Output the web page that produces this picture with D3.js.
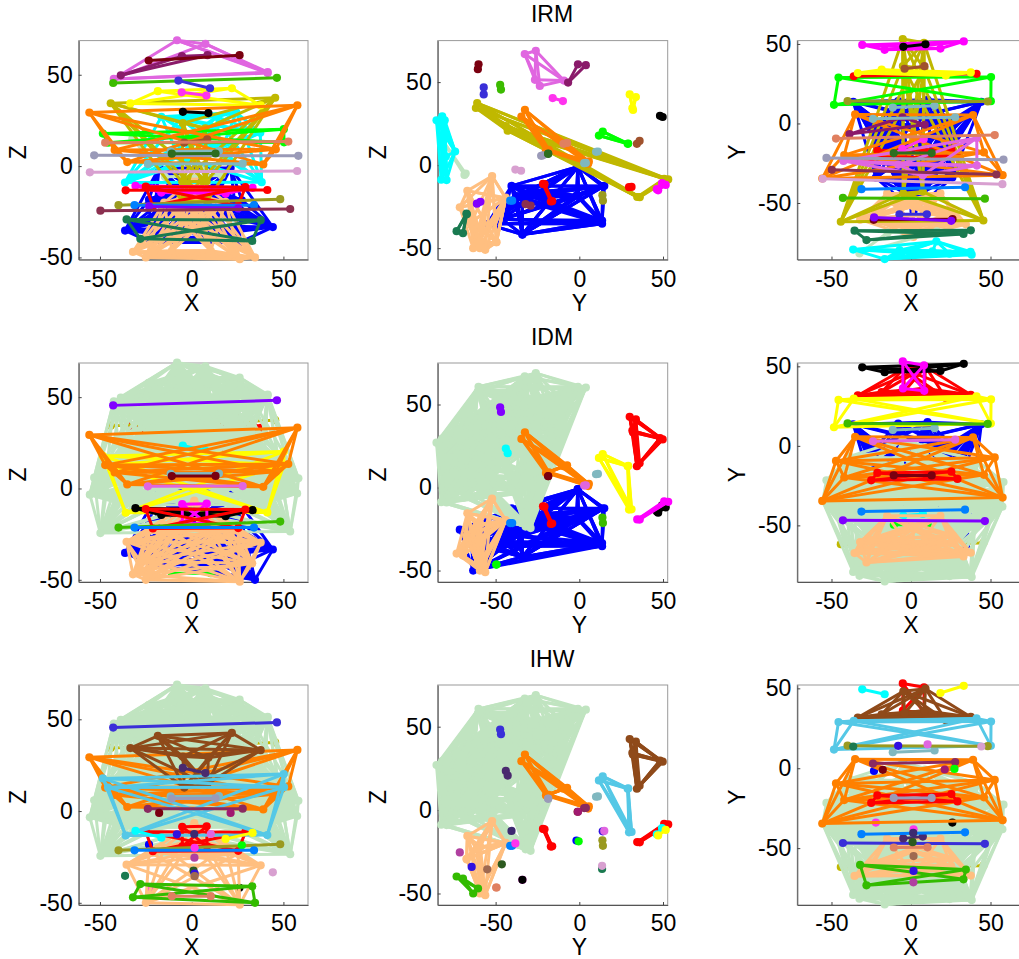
<!DOCTYPE html>
<html><head><meta charset="utf-8">
<script src="https://cdn.jsdelivr.net/npm/d3@7/dist/d3.min.js"></script>
<style>html,body{margin:0;padding:0;background:#fff;overflow:hidden}svg{display:block}text{font-family:"Liberation Sans",Arial,sans-serif;fill:#000}</style>
</head><body><svg id="c" width="1019" height="959"></svg>
<script>
// Regions (mirror pairs) and their read coordinates, in order L, R
const nodeNames=["PreCG.L","PreCG.R","SFGdor.L","SFGdor.R","ORBsup.L","ORBsup.R","MFG.L","MFG.R","ORBmid.L","ORBmid.R","IFGoperc.L","IFGoperc.R","IFGtriang.L","IFGtriang.R","ORBinf.L","ORBinf.R","ROL.L","ROL.R","SMA.L","SMA.R","OLF.L","OLF.R","SFGmed.L","SFGmed.R","ORBsupmed.L","ORBsupmed.R","REC.L","REC.R","INS.L","INS.R","ACG.L","ACG.R","DCG.L","DCG.R","PCG.L","PCG.R","HIP.L","HIP.R","PHG.L","PHG.R","AMYG.L","AMYG.R","CAL.L","CAL.R","CUN.L","CUN.R","LING.L","LING.R","SOG.L","SOG.R","MOG.L","MOG.R","IOG.L","IOG.R","FFG.L","FFG.R","PoCG.L","PoCG.R","SPG.L","SPG.R","IPL.L","IPL.R","SMG.L","SMG.R","ANG.L","ANG.R","PCUN.L","PCUN.R","PCL.L","PCL.R","CAU.L","CAU.R","PUT.L","PUT.R","PAL.L","PAL.R","THA.L","THA.R","HES.L","HES.R","STG.L","STG.R","TPOsup.L","TPOsup.R","MTG.L","MTG.R","TPOmid.L","TPOmid.R","ITG.L","ITG.R","Crus1.L","Crus1.R","Crus2.L","Crus2.R","Cb3.L","Cb3.R","Cb45.L","Cb45.R","Cb6.L","Cb6.R","Cb7b.L","Cb7b.R","Cb8.L","Cb8.R","Cb9.L","Cb9.R","Cb10.L","Cb10.R","V12","V3","V45","V6","V7","V8","V9","V10"];
const nodeX=[-38.65,41.37,-18.45,21.9,-16.56,18.49,-33.43,37.59,-30.65,33.18,-48.43,50.2,-45.58,50.33,-35.98,41.22,-47.16,52.65,-5.32,8.62,-8.06,10.43,-4.8,9.1,-5.17,8.16,-5.08,8.35,-35.13,39.02,-4.04,8.46,-5.48,8.02,-4.85,7.44,-25.03,29.23,-21.17,25.38,-23.27,27.32,-7.14,15.99,-5.93,13.51,-14.62,16.29,-16.54,24.29,-32.39,37.39,-36.36,38.16,-31.16,33.97,-42.46,41.43,-23.45,26.11,-42.8,46.46,-55.79,57.61,-44.14,45.51,-7.24,9.98,-7.99,7.48,-11.46,14.84,-23.91,27.78,-17.75,21.2,-10.85,13,-41.99,45.86,-53.16,58.15,-39.88,48.25,-55.52,57.47,-36.32,44.22,-49.77,53.69,-35.5,37.6,-28,33,-8.3,13.5,-15,18.5,-23.2,25.3,-32,34.5,-25,26.2,-10.8,10.4,-22.1,26,1.6,1.4,1.4,1.5,1.5,1.6,1.6,1];
const nodeY=[-6.7,-9.2,33.8,30.1,46.3,47.1,31.7,32.1,49.4,51.6,11.7,14,28.9,29.2,29.7,31.2,-9.5,-7.3,3.9,-0.8,14,14.9,48.2,49.8,53.1,50.7,36.1,34.6,5.7,5.3,34.4,36,-15.9,-9.8,-43.9,-42.8,-21.7,-20.8,-17,-16.2,-1.7,-0.4,-79.7,-74.2,-81.1,-80.4,-68.6,-67.9,-85.3,-81.9,-81.7,-80.7,-79.3,-82.5,-41.3,-40.1,-23.6,-26.5,-60.6,-60.2,-46.8,-47.3,-34.6,-32.5,-61.8,-61,-57.1,-57.1,-26,-32.6,10,11.1,2.9,3.9,-1,-0.8,-18.6,-18.6,-19.9,-18.2,-21.7,-22.8,14.1,13.8,-34.8,-38.2,13.6,13.6,-29.1,-32.1,-67.4,-67.2,-73.3,-69.5,-37.3,-34,-44,-44,-59.1,-61.2,-60.5,-63.4,-59.4,-56.2,-49.6,-49.5,-34,-34,-38.2,-40.5,-52.1,-66.9,-71.4,-64.3,-55,-46.3];
const nodeZ=[49.7,50.9,41,42.6,-14.5,-15.2,34.3,33.2,-10.8,-11.9,17.8,20.2,12.8,13,-13.3,-13.1,12.8,13.4,60.2,60.7,-12.7,-12.5,29.7,29,-8.6,-8.3,-19.3,-19.2,2.2,0.9,12.8,14.6,40.4,38.6,23.5,20.7,-11.3,-11.5,-21.9,-21.7,-18.3,-18.7,5.2,8.2,26,27,-5.9,-5.1,27,29.4,14.9,18.2,-9,-8.8,-21.4,-21.4,47.7,51.4,57.8,60.7,45.5,48.3,29.3,33.3,34.4,37.4,46.8,42.6,68.9,66.9,8,8.2,1.2,1.3,-1,-1,6.8,6.9,8.8,9.2,5.9,5.6,-21.4,-18.1,-3.4,-2.7,-35.3,-33.4,-24.4,-23.5,-29.2,-29.6,-39.8,-41,-18.6,-17,-20,-19.6,-22.1,-23.2,-47,-50,-50,-51,-46.4,-46.4,-41.8,-41.8,-20,-12.5,-6.6,-15.5,-25.4,-34.1,-35.5,-32.5];

// Modules of each method: [colour, regions]; a name without side means both sides
const irmColors=["#0000ff","#ffbf80","#c0e4c0","#00ffff","#c0b800","#00ff00","#ff00ff","#ff0000","#ff0000","#ffff00","#ff8000","#e066e0","#8a1a6a","#1a7a50","#7a0010","#3cbb00","#3a2fd8","#ff33ee","#000000","#a0522d","#80b8c0","#80b8c0","#e08060","#9a9ab8","#2d6e20","#d8a0d0","#9a9a20","#0080ff","#8000ff","#8b3050"];
const irmModules=[
["OLF","PAL","AMYG","TPOmid","Cb3","Cb10","V12","V3","V9","V10"],
["Cb45","Cb7b","Cb8","Cb9","V45","V6","V7","V8"],
["MOG.L","LING"],
["CAL","CUN","SOG","MOG.R","IOG"],
["ANG","PCG","ORBsupmed","REC"],
["IFGoperc","IFGtriang"],
["ORBsup","ORBmid"],
["HIP","PHG"],
["ORBinf"],
["SFGdor","MFG"],
["INS","HES","SMG"],
["PreCG.R","PoCG","PCL"],
["PreCG.L","SMA"],
["Crus1","Crus2"],
["SPG"],["IPL"],["PCUN"],["DCG"],["SFGmed"],["ACG"],["CAU"],["PUT"],["ROL"],["STG"],["THA"],["MTG"],["TPOsup"],["FFG"],["Cb6"],["ITG"]];

const idmColors=["#0000ff","#ff0000","#c0b800","#c0e4c0","#00ff00","#00ffff","#ffbf80","#ffff00","#ff8000","#000000","#ff00ff","#ff0000","#80b8c0","#e066e0","#7a0010","#3cbb00","#0080ff","#8000ff"];
const idmModules=[
["OLF","PAL","AMYG","TPOmid","Cb3","Cb7b.R","Cb10","V12","V3","V7","V8","V9","V10"],
["SFGdor","MFG","SFGmed","ACG"],
["ANG"],
["PreCG","SMA","CAL","CUN","LING","SOG","MOG","IOG","PoCG","SPG","PCUN","PCL","DCG","STG","MTG","ITG"],
["Cb9"],
["PCG"],
["Crus1","Crus2","Cb45","Cb6","Cb7b.L","Cb8","V45","V6"],
["IFGoperc","IFGtriang","ORBinf"],
["INS","ROL","HES","SMG"],
["ORBsup","ORBmid"],
["ORBsupmed","REC"],
["HIP","PHG"],
["CAU"],["PUT"],["THA"],["TPOsup"],["FFG"],["IPL"]];

const ihwColors=["#c0b800","#c0e4c0","#ff33ee","#000000","#0000ff","#ff8000","#ffbf80","#ff0000","#ff0000","#8f4a1a","#55c8e6","#33bb00","#00ffff","#ffff00","#80b8c0","#9a9ab8","#8a2a60","#7a0010","#a01a70","#3a2fd8","#4a2a6e","#9a9a20","#3010e0","#e066e0","#1a7a50","#d8a0d0","#00ff00","#0080ff","#e08060","#ff33ee","#3d2a70","#2d5a20","#3010e0","#a06a50","#b040a0"];
const ihwModules=[
["ANG"],
["PreCG","SMA","CAL","CUN","LING","SOG","MOG","IOG","PoCG","SPG","PCUN","PCL","DCG","STG","MTG","ITG"],
["Cb10.L"],["Cb10.R"],["AMYG.L"],
["INS","ROL","HES","SMG"],
["Crus1","Cb45","Cb6","Cb8","V45","V6"],
["HIP","PHG"],
["ORBsupmed","REC"],
["SFGdor","MFG","SFGmed","ACG"],
["IFGoperc","IFGtriang","ORBinf"],
["Crus2","Cb7b"],
["ORBsup.L","ORBmid.L"],["ORBsup.R","ORBmid.R"],
["CAU"],["THA"],["PUT"],["PAL.L"],["PAL.R"],["IPL"],["PCG"],["TPOsup"],
["OLF.L"],["OLF.R"],["TPOmid.L"],["TPOmid.R"],["AMYG.R"],["FFG"],["Cb9"],["V12"],["V3"],["V10"],["V8"],["V9"],["V7"]];

const methodTitles=["IRM","IDM","IHW"];
const tickValues=[-50,0,50];

const svg=d3.select("#c");
const idx=new Map(nodeNames.map((n,i)=>[n,i]));
const members=names=>names.flatMap(n=>idx.has(n)?[idx.get(n)]:[idx.get(n+".L"),idx.get(n+".R")]);

const coord={X:nodeX,Y:nodeY,Z:nodeZ};
const rowsPx=[[40.6,259.6],[363,582],[685,905]];
const columns=[
 {h:"X",v:"Z",xr:[78.7,308],xd:[-61.6,63.4],vd:[-51.2,68.7],lx:18},
 {h:"Y",v:"Z",xr:[437.7,667.7],xd:[-84.6,52.8],vd:[-56.9,75],lx:378},
 {h:"X",v:"Y",xr:[797.3,1024.7],xd:[-71.5,71.5],vd:[-85.6,52.1],lx:737}];
const methods=[[irmColors,irmModules],[idmColors,idmModules],[ihwColors,ihwModules]];

methods.forEach(([colors,mods],r)=>{
 const [top,bot]=rowsPx[r];
 columns.forEach((c,ci)=>{
  const x=d3.scaleLinear().domain(c.xd).range(c.xr);
  const y=d3.scaleLinear().domain(c.vd).range([bot,top]);
  const g=svg.append("g");
  g.append("rect").attr("x",c.xr[0]).attr("y",top).attr("width",c.xr[1]-c.xr[0]).attr("height",bot-top)
   .attr("fill","#fff").attr("stroke","#9a9a9a").attr("stroke-width",1);
  const gx=g.append("g").attr("transform",`translate(0,${bot})`)
   .call(d3.axisBottom(x).tickValues(tickValues).tickFormat(d3.format("d")).tickSizeInner(-3).tickSizeOuter(0).tickPadding(r===2?10:11));
  const gy=g.append("g").attr("transform",`translate(${c.xr[0]},0)`)
   .call(d3.axisLeft(y).tickValues(tickValues).tickFormat(d3.format("d")).tickSizeInner(-3).tickSizeOuter(0).tickPadding(6));
  [gx,gy].forEach(a=>{a.selectAll("text").attr("font-size",23).attr("font-family",'"Liberation Sans",Arial,sans-serif').attr("fill","#000");
    a.selectAll("line").attr("stroke","#444");a.select(".domain").attr("stroke","#555");
    a.selectAll("text").text(d=>d<0?"-"+Math.abs(d):d);});
  const H=coord[c.h],V=coord[c.v];
  mods.forEach((m,mi)=>{
   const col=colors[mi],ids=members(m);
   const pairs=ids.flatMap((a,i)=>ids.slice(i+1).map(b=>[a,b]));
   const mg=g.append("g");
   mg.selectAll("line").data(pairs).join("line")
    .attr("x1",d=>x(H[d[0]])).attr("y1",d=>y(V[d[0]])).attr("x2",d=>x(H[d[1]])).attr("y2",d=>y(V[d[1]]))
    .attr("stroke",col).attr("stroke-width",3).attr("stroke-linecap","round");
   mg.selectAll("circle").data(ids).join("circle")
    .attr("cx",d=>x(H[d])).attr("cy",d=>y(V[d])).attr("r",4.1).attr("fill",col);
  });
  const midx=(x(-50)+x(50))/2;
  g.append("text").attr("x",midx).attr("y",Math.min(bot+51,954.6)).attr("text-anchor","middle").attr("font-size",23).text(c.h);
  g.append("text").attr("transform",`translate(${c.lx+8},${(top+bot)/2+2}) rotate(-90)`).attr("text-anchor","middle").attr("font-size",23).text(c.v);
  if(ci===1) g.append("text").attr("x",552).attr("y",top-18.5).attr("text-anchor","middle").attr("font-size",23).text(methodTitles[r]);
 });
});
</script></body></html>
